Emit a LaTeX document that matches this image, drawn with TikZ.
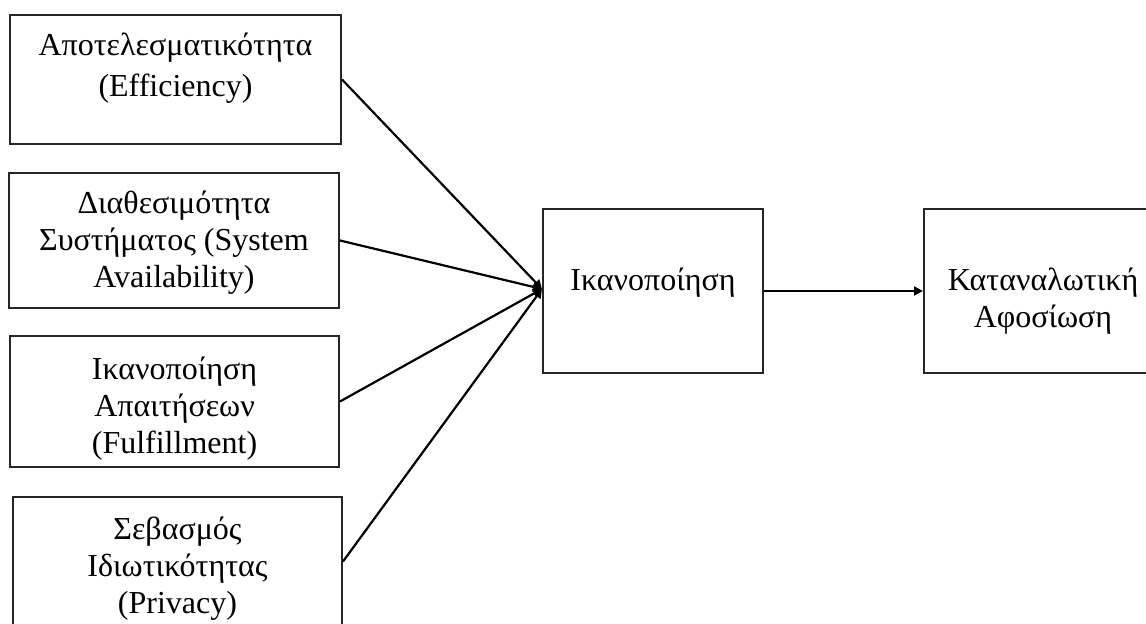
\documentclass[tikz,border=0pt]{standalone}
\usepackage{fontspec}
\setmainfont{Liberation Serif}
\usetikzlibrary{positioning, arrows.meta}

\tikzset{
    box/.style={draw=black!85, line width=1pt, inner sep=0pt},
    boxtext/.style={anchor=north, align=center, inner sep=0pt, font=\fontsize{16}{18.5}\selectfont},
    link/.style={line width=1.1pt, -{Triangle[length=4.5pt, width=4.5pt]}}
}

\begin{document}
\begin{tikzpicture}[x=0.5pt, y=-0.5pt]
    \def\px{0.5pt}
    \useasboundingbox (0,0) rectangle (1146,624);

    % factors on the left
    \node[box, minimum width=331*\px, minimum height=129*\px] (eff) at (175.5,79.5) {};
    \node[box, minimum width=330*\px, minimum height=135*\px] (avail) at (174,240.5) {};
    \node[box, minimum width=329*\px, minimum height=131*\px] (fulf) at (174.5,401.5) {};
    \node[box, minimum width=329*\px, minimum height=129*\px] (priv) at (177.5,561.5) {};

    % satisfaction and loyalty
    \node[box, minimum width=220*\px, minimum height=164*\px] (sat) at (653,291) {};
    \node[box, minimum width=238*\px, minimum height=164*\px] (loyal) at (1043,291) {};

    % texts
    \node[boxtext, below=9.5pt of eff.north] (eff-t) {Αποτελεσματικότητα\\[2pt](Efficiency)};
    \node[boxtext, below=9.5pt of avail.north] (avail-t) {Διαθεσιμότητα\\Συστήματος (System\\Availability)};
    \node[boxtext, below=11pt of fulf.north] (fulf-t) {Ικανοποίηση\\Απαιτήσεων\\(Fulfillment)};
    \node[boxtext, below=10.5pt of priv.north] (priv-t) {Σεβασμός\\Ιδιωτικότητας\\(Privacy)};
    \node[boxtext, below=30pt of sat.north] (sat-t) {Ικανοποίηση};
    \node[boxtext, below=30pt of loyal.north] (loyal-t) {Καταναλωτική\\Αφοσίωση};

    % arrows
    \foreach \src in {eff, avail, fulf, priv}
    {
        \draw[link] (\src.east) -- ([yshift=1pt]sat.west);
    }
    \draw[link] (sat.east) -- (loyal.west);
\end{tikzpicture}
\end{document}
